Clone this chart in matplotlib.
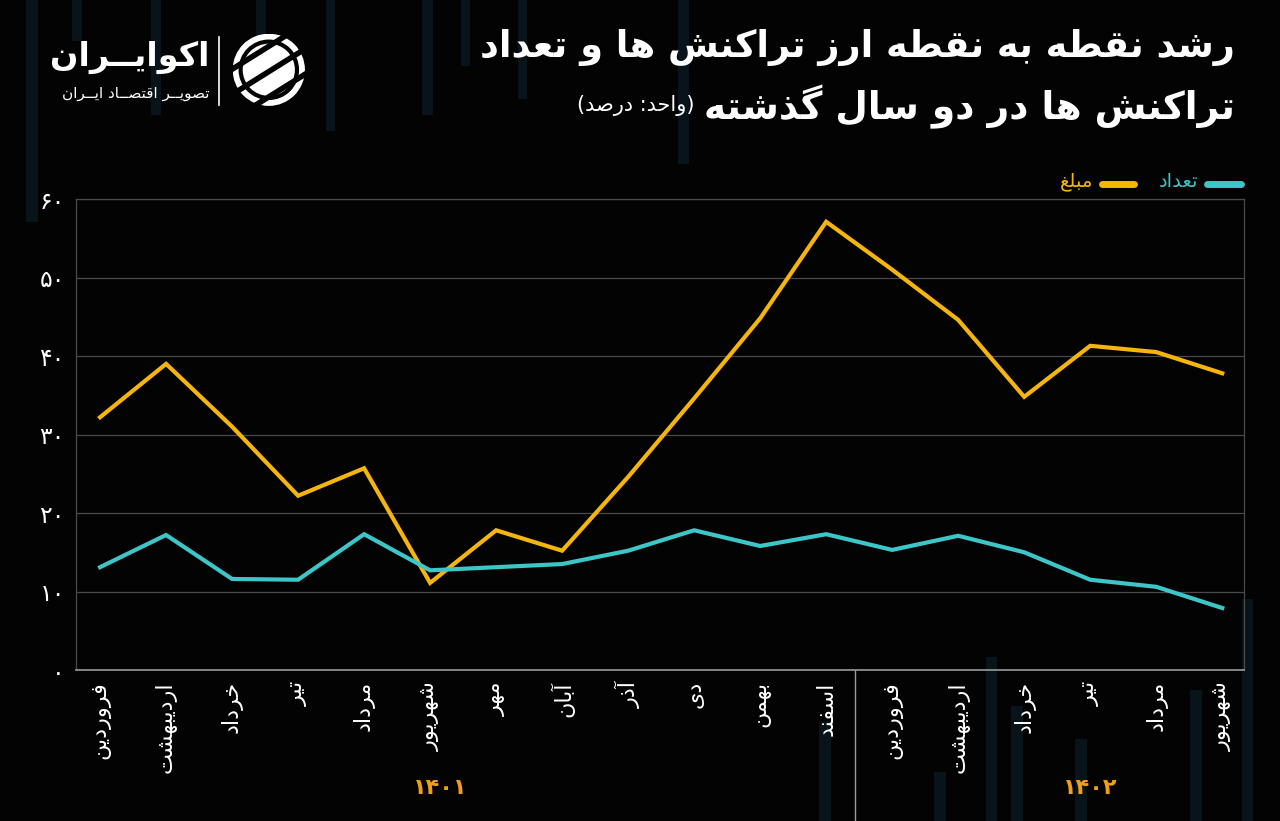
import re
import numpy as np
import matplotlib
matplotlib.use("Agg")
import matplotlib.pyplot as plt
from matplotlib.patches import Circle, Rectangle

# ---- data (percent) ----
months = ["فروردین", "اردیبهشت", "خرداد", "تیر", "مرداد", "شهریور",
          "مهر", "آبان", "آذر", "دی", "بهمن", "اسفند",
          "فروردین", "اردیبهشت", "خرداد", "تیر", "مرداد", "شهریور"]
amount = [32.2, 39.0, 31.0, 22.2, 25.7, 11.1, 17.8, 15.2, 24.6, 34.6, 44.8, 57.1,
          51.0, 44.6, 34.8, 41.3, 40.5, 37.8]
count = [13.1, 17.2, 11.6, 11.5, 17.3, 12.7, 13.1, 13.5, 15.2, 17.8, 15.8, 17.3,
         15.3, 17.1, 15.0, 11.5, 10.6, 7.9]
years = ["۱۴۰۱", "۱۴۰۲"]
year_pos = [5.15, 15.0]
yticks = [0, 10, 20, 30, 40, 50, 60]

ORANGE = "#f5b50a"
TEAL = "#3cc6c8"
YEAR_C = "#f0a014"
BG = "#030303"

# ---- tiny persian shaper (matplotlib does no arabic shaping / bidi) ----
FORMS = {
    'ا': ('\uFE8D', '\uFE8E', None, None),
    'آ': ('\uFE81', '\uFE82', None, None),
    'ب': ('\uFE8F', '\uFE90', '\uFE91', '\uFE92'),
    'ت': ('\uFE95', '\uFE96', '\uFE97', '\uFE98'),
    'ح': ('\uFEA1', '\uFEA2', '\uFEA3', '\uFEA4'),
    'خ': ('\uFEA5', '\uFEA6', '\uFEA7', '\uFEA8'),
    'د': ('\uFEA9', '\uFEAA', None, None),
    'ذ': ('\uFEAB', '\uFEAC', None, None),
    'ر': ('\uFEAD', '\uFEAE', None, None),
    'ز': ('\uFEAF', '\uFEB0', None, None),
    'س': ('\uFEB1', '\uFEB2', '\uFEB3', '\uFEB4'),
    'ش': ('\uFEB5', '\uFEB6', '\uFEB7', '\uFEB8'),
    'ص': ('\uFEB9', '\uFEBA', '\uFEBB', '\uFEBC'),
    'ط': ('\uFEC1', '\uFEC2', '\uFEC3', '\uFEC4'),
    'ع': ('\uFEC9', '\uFECA', '\uFECB', '\uFECC'),
    'غ': ('\uFECD', '\uFECE', '\uFECF', '\uFED0'),
    'ف': ('\uFED1', '\uFED2', '\uFED3', '\uFED4'),
    'ق': ('\uFED5', '\uFED6', '\uFED7', '\uFED8'),
    'ل': ('\uFEDD', '\uFEDE', '\uFEDF', '\uFEE0'),
    'م': ('\uFEE1', '\uFEE2', '\uFEE3', '\uFEE4'),
    'ن': ('\uFEE5', '\uFEE6', '\uFEE7', '\uFEE8'),
    'ه': ('\uFEE9', '\uFEEA', '\uFEEB', '\uFEEC'),
    'و': ('\uFEED', '\uFEEE', None, None),
    'ی': ('\uFBFC', '\uFBFD', '\uFBFE', '\uFBFF'),
    'ک': ('\uFB8E', '\uFB8F', '\uFB90', '\uFB91'),
    'گ': ('\uFB92', '\uFB93', '\uFB94', '\uFB95'),
    'ـ': ('ـ', 'ـ', 'ـ', 'ـ'),
}


def shape(s):
    out = []
    for i, c in enumerate(s):
        if c not in FORMS:
            out.append(c)
            continue
        iso, fin, ini, med = FORMS[c]
        prev = s[i - 1] if i > 0 else None
        nxt = s[i + 1] if i < len(s) - 1 else None
        pj = prev in FORMS and FORMS[prev][2] is not None
        nj = nxt in FORMS and ini is not None
        if pj and nj:
            out.append(med)
        elif pj:
            out.append(fin)
        elif nj:
            out.append(ini)
        else:
            out.append(iso)
    return "".join(out)


def fa(s):
    v = shape(s)[::-1]
    v = re.sub(r"[0-9۰-۹]+", lambda m: m.group(0)[::-1], v)
    return v.translate(str.maketrans("()", ")("))


def fa_num(n):
    return str(n).translate(str.maketrans("0123456789", "۰۱۲۳۴۵۶۷۸۹"))


plt.rcParams["font.family"] = ["DejaVu Sans"]

fig = plt.figure(figsize=(12.8, 8.21), dpi=100, facecolor=BG)

# faint background bars (decoration)
deco = [(0.020, 0.73, 0.010), (0.056, 0.95, 0.008), (0.118, 0.86, 0.008),
        (0.2, 0.90, 0.008), (0.255, 0.84, 0.007), (0.33, 0.86, 0.008),
        (0.36, 0.92, 0.007), (0.405, 0.88, 0.007), (0.53, 0.80, 0.008)]
for x, y0, w in deco:
    fig.add_artist(Rectangle((x, y0), w, 1 - y0, transform=fig.transFigure,
                             color="#08141a", zorder=0, lw=0))
deco_b = [(0.64, 0.0, 0.12), (0.73, 0.0, 0.06), (0.77, 0.0, 0.2),
          (0.79, 0.0, 0.14), (0.84, 0.0, 0.10), (0.93, 0.0, 0.16),
          (0.97, 0.0, 0.27)]
for x, y0, h in deco_b:
    fig.add_artist(Rectangle((x, y0), 0.009, h, transform=fig.transFigure,
                             color="#08141a", zorder=0, lw=0))

ax = fig.add_axes([0.0594, 0.1839, 0.9125, 0.5737])
ax.set_facecolor("none")

x = np.arange(len(months))
ax.plot(x, amount, color=ORANGE, lw=3, solid_joinstyle="miter", zorder=3)
ax.plot(x, count, color=TEAL, lw=3, solid_joinstyle="miter", zorder=3)

ax.set_xlim(-0.364, len(months) - 1 + 0.33)
ax.set_ylim(0, 60)
ax.set_yticks(yticks)
ax.set_yticklabels([fa_num(v) for v in yticks], color="white", fontsize=17)
ax.set_xticks(x)
ax.set_xticklabels([fa(m) for m in months], rotation=90, color="white",
                   fontsize=16)
ax.tick_params(length=0, pad=8)
ax.grid(axis="y", color="#4a4a4a", lw=0.9)
ax.set_axisbelow(True)
for side in ["left", "right", "top"]:
    ax.spines[side].set_color("#4a4a4a")
    ax.spines[side].set_linewidth(0.9)
ax.spines["bottom"].set_color("#9a9a9a")
ax.spines["bottom"].set_linewidth(1.2)

# year separator
ax.plot([11.44, 11.44], [0, -20], color="#9a9a9a", lw=1, clip_on=False)

for yr, p in zip(years, year_pos):
    ax.text(p, -15.0, yr, color=YEAR_C, fontsize=16, fontweight="bold",
            ha="center", va="center")

# legend (right to left)
ax.plot([0.968, 0.997], [1.032, 1.032], transform=ax.transAxes, color=TEAL,
        lw=5, solid_capstyle="round", clip_on=False)
ax.text(0.961, 1.038, fa("تعداد"), transform=ax.transAxes, color=TEAL,
        fontsize=14, ha="right", va="center")
ax.plot([0.878, 0.906], [1.032, 1.032], transform=ax.transAxes, color=ORANGE,
        lw=5, solid_capstyle="round", clip_on=False)
ax.text(0.871, 1.038, fa("مبلغ"), transform=ax.transAxes, color=ORANGE,
        fontsize=14, ha="right", va="center")

# titles
fig.text(0.965, 0.942, fa("رشد نقطه به نقطه ارز تراکنش ها و تعداد"),
         color="white", fontsize=26.5, fontweight="bold", ha="right", va="center")
t2 = fig.text(0.965, 0.870, fa("تراکنش ها در دو سال گذشته"),
              color="white", fontsize=27, fontweight="bold", ha="right",
              va="center")
fig.canvas.draw()
bb = t2.get_window_extent()
fig.text((bb.x0 - 10) / fig.bbox.width, 0.872, fa("(واحد: درصد)"),
         color="white", fontsize=15, ha="right", va="center")

# logo
fig.text(0.164, 0.930, fa("اکوایــران"), color="white", fontsize=24,
         fontweight="bold", ha="right", va="center")
fig.text(0.164, 0.886, fa("تصویــر اقتصــاد ایــران"), color="white",
         fontsize=11, ha="right", va="center")
fig.add_artist(plt.Line2D([0.171, 0.171], [0.872, 0.955], color="white",
                          lw=1.2, transform=fig.transFigure))
iax = fig.add_axes([0.180, 0.871, 0.060, 0.088])
iax.set_xlim(-1, 1)
iax.set_ylim(-1, 1)
iax.set_aspect("equal")
iax.axis("off")
circ = Circle((0, 0), 1, color="white", lw=0)
iax.add_patch(circ)
for off in [-0.75, -0.05, 0.65]:
    iax.plot([-1.2, 1.2], [off - 0.75, off + 0.75], color=BG, lw=4)
ring = Circle((0, 0), 0.78, facecolor="none", edgecolor=BG, lw=3)
iax.add_patch(ring)

fig.savefig("out.png", dpi=100, facecolor=BG)
